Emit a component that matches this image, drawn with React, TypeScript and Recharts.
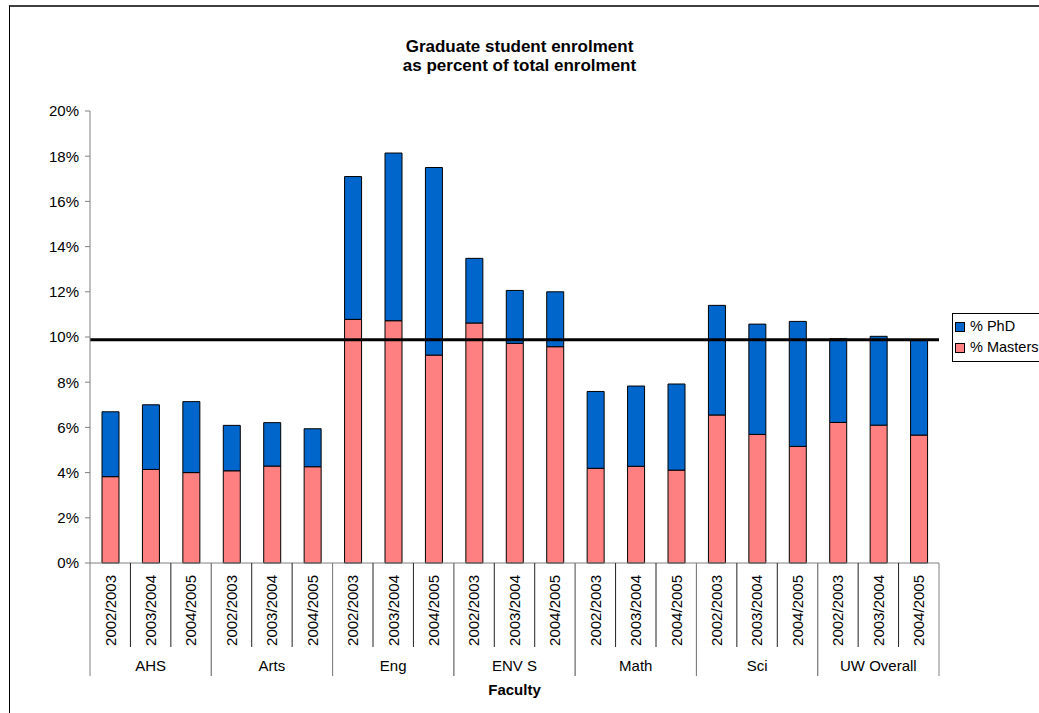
import React from 'react';
import { ComposedChart, Bar, XAxis, YAxis, ReferenceLine, Legend } from 'recharts';

const faculties = ['AHS', 'Arts', 'Eng', 'ENV S', 'Math', 'Sci', 'UW Overall'];
const years = ['2002/2003', '2003/2004', '2004/2005'];

// % Masters per faculty, per year (flattened faculty-major)
const mastersPct = [
  3.82, 4.14, 4.0,
  4.08, 4.29, 4.26,
  10.78, 10.72, 9.2,
  10.62, 9.72, 9.57,
  4.19, 4.28, 4.11,
  6.55, 5.69, 5.16,
  6.22, 6.1, 5.66,
];

// % PhD per faculty, per year
const phdPct = [
  2.87, 2.86, 3.14,
  2.01, 1.92, 1.68,
  6.32, 7.42, 8.3,
  2.86, 2.34, 2.43,
  3.4, 3.55, 3.81,
  4.85, 4.88, 5.53,
  3.7, 3.93, 4.22,
];

const uwOverallLine = 9.88;
const yTicks = [0, 2, 4, 6, 8, 10, 12, 14, 16, 18, 20];

const data = faculties.flatMap((f, fi) =>
  years.map((y, yi) => ({
    key: `${f}|${y}`,
    faculty: f,
    year: y,
    yi,
    masters: mastersPct[fi * 3 + yi],
    phd: phdPct[fi * 3 + yi],
  }))
);

const FONT = '"Liberation Sans", Arial, sans-serif';

const XTick = (props: any) => {
  const { x, y, payload } = props;
  const idx = typeof payload.index === 'number' ? payload.index : props.index;
  const row = data[idx];
  if (!row) return null;
  const half = payload.offset || 20;
  const sepColor = '#222';
  return (
    <g>
      <text
        transform={`translate(${x},${y + 12}) rotate(-90)`}
        textAnchor="end"
        dy="0.36em"
        fontSize={15}
        fontFamily={FONT}
        fill="#000"
      >
        {row.year}
      </text>
      {row.yi === 0 && (
        <line x1={x - half} x2={x - half} y1={y} y2={y + 113} stroke="#808080" strokeWidth={1} />
      )}
      <line
        x1={x + half}
        x2={x + half}
        y1={y}
        y2={row.yi === 2 ? y + 113 : y + 84}
        stroke={row.yi === 2 ? '#808080' : sepColor}
        strokeWidth={1}
      />
      {row.yi === 1 && (
        <text x={x} y={y + 103} textAnchor="middle" dy="0.36em" fontSize={15} fontFamily={FONT} fill="#000">
          {row.faculty}
        </text>
      )}
    </g>
  );
};

const LegendBox = () => (
  <div
    style={{
      border: '1px solid #000',
      background: '#fff',
      padding: '2px 0 3px 2px',
      fontFamily: FONT,
      fontSize: 14.5,
      lineHeight: '21px',
      whiteSpace: 'nowrap',
      width: 120,
    }}
  >
    {[
      { label: '% PhD', color: '#0066CC' },
      { label: '% Masters', color: '#FF8080' },
    ].map((it) => (
      <div key={it.label} style={{ display: 'flex', alignItems: 'center' }}>
        <span
          style={{
            display: 'inline-block',
            width: 8,
            height: 8,
            background: it.color,
            border: '1px solid #000',
            marginRight: 5,
          }}
        />
        <span>{it.label}</span>
      </div>
    ))}
  </div>
);

export default function App() {
  return (
    <div
      style={{
        position: 'absolute',
        left: 0,
        top: 0,
        width: 1039,
        height: 713,
        overflow: 'hidden',
        background: '#fff',
      }}
    >
      <div
        style={{
          position: 'absolute',
          left: 9,
          top: 5,
          width: 1100,
          height: 800,
          borderTop: '2px solid #404040',
          borderLeft: '1px solid #000',
        }}
      />
      <div
        style={{
          position: 'absolute',
          left: 0,
          top: 37,
          width: 1039,
          textAlign: 'center',
          fontFamily: FONT,
          fontWeight: 'bold',
          fontSize: 17,
          lineHeight: '19px',
          color: '#000',
        }}
      >
        Graduate student enrolment
        <br />
        as percent of total enrolment
      </div>
      <div style={{ position: 'absolute', left: 0, top: 0 }}>
        <ComposedChart
          width={1039}
          height={713}
          data={data}
          margin={{ top: 111, right: 100, bottom: 30, left: 10 }}
          barSize={17}
        >
          <XAxis
            dataKey="key"
            type="category"
            interval={0}
            tick={<XTick />}
            tickLine={false}
            tickSize={0}
            tickMargin={0}
            height={120}
            axisLine={{ stroke: '#808080', strokeWidth: 1 }}
            label={{
              value: 'Faculty',
              position: 'insideBottom',
              offset: -12,
              style: { fontFamily: FONT, fontWeight: 'bold', fontSize: 15, fill: '#000' },
            }}
          />
          <YAxis
            width={80}
            domain={[0, 20]}
            ticks={yTicks}
            interval={0}
            tickFormatter={(v: number) => `${v}%`}
            tick={{ fontFamily: FONT, fontSize: 15, fill: '#000' }}
            tickSize={5}
            tickMargin={6}
            tickLine={{ stroke: '#808080' }}
            axisLine={{ stroke: '#808080', strokeWidth: 1 }}
          />
          <Bar
            dataKey="masters"
            stackId="a"
            name="% Masters"
            fill="#FF8080"
            stroke="#000"
            strokeWidth={1}
            isAnimationActive={false}
          />
          <Bar
            dataKey="phd"
            stackId="a"
            name="% PhD"
            fill="#0066CC"
            stroke="#000"
            strokeWidth={1}
            isAnimationActive={false}
          />
          <ReferenceLine y={uwOverallLine} stroke="#000" strokeWidth={3} ifOverflow="extendDomain" />
          <Legend
            layout="horizontal"
            verticalAlign="middle"
            align="center"
            content={<LegendBox />}
            wrapperStyle={{ left: 952, top: 313, width: 130 }}
          />
        </ComposedChart>
      </div>
    </div>
  );
}
